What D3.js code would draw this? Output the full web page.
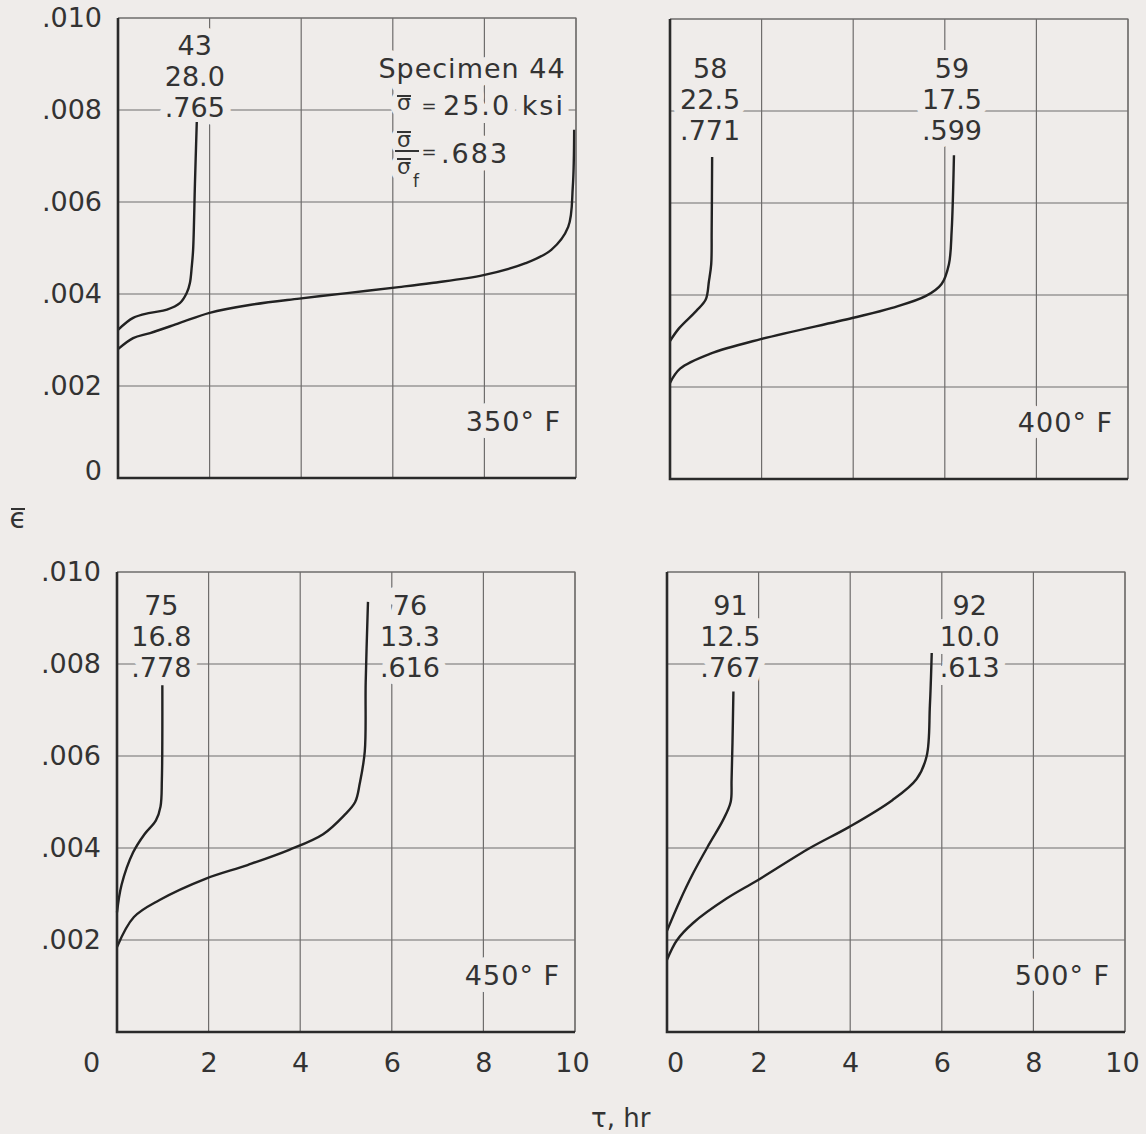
<!DOCTYPE html>
<html>
<head lang="en">
  <title>creep strain curves</title>
  <meta charset="utf-8">
  <script src="https://d3js.org/d3.v7.min.js"></script>
  <style>
    body { margin: 0; background: #efecea; }
    text { font-family: "DejaVu Sans", sans-serif; fill: #333; }
  </style>
</head>
<body>
  <script>

    // axis ticks
    var xTicks = [0, 2, 4, 6, 8, 10];
    var yTicks = [0, 0.002, 0.004, 0.006, 0.008, 0.010];
    var yTickLabels = ["0", ".002", ".004", ".006", ".008", ".010"];
    var temps = ["350° F", "400° F", "450° F", "500° F"];

    // curves: [time hr, mean strain]
    var curve43 = [[0, .00322], [.33, .00348], [.7, .00359], [1.07, .00366], [1.35, .0038], [1.5, .00402],
      [1.57, .00424], [1.61, .00459], [1.64, .00496], [1.68, .0064], [1.72, .00774]];
    var curve44 = [[0, .0028], [.33, .00304], [.7, .00315], [1.35, .00337], [2, .00359], [2.87, .00376],
      [3.96, .0039], [5, .00402], [6.13, .00415], [6.85, .00424], [7.98, .00441], [8.9, .00467],
      [9.46, .00496], [9.83, .00546], [9.93, .00633], [9.96, .00757]];
    var curve58 = [[0, .0030], [.2, .00328], [.57, .00365], [.78, .0039], [.85, .0043], [.9, .00467],
      [.91, .0054], [.92, .0070]];
    var curve59 = [[0, .00209], [.22, .0024], [.87, .00272], [1.98, .00304], [3.98, .0035], [4.85, .00372],
      [5.59, .00398], [5.93, .00424], [6.09, .00467], [6.15, .0054], [6.2, .00704]];
    var curve75 = [[0, .0026], [.1, .0032], [.35, .0039], [.6, .0043], [.85, .0046], [.95, .0049],
      [.98, .0055], [.99, .00754]];
    var curve76 = [[0, .00185], [.37, .0025], [.93, .00287], [1.93, .00333], [2.85, .00363], [3.76, .00396],
      [4.5, .0043], [4.95, .0047], [5.2, .0050], [5.3, .0054], [5.41, .0061], [5.43, .0076], [5.48, .00935]];
    var curve91 = [[0, .0022], [.28, .00285], [.57, .00345], [.93, .0041], [1.22, .0046], [1.39, .005],
      [1.41, .00548], [1.43, .0063], [1.45, .0074]];
    var curve92 = [[0, .00157], [.22, .002], [.57, .00237], [1.3, .0029], [1.98, .0033], [3.12, .004],
      [3.98, .00446], [4.92, .00504], [5.45, .0055], [5.67, .006], [5.74, .0071], [5.78, .00824]];

    // specimen, stress ksi, stress ratio
    var tag43 = ["43", "28.0", ".765"];
    var tag58 = ["58", "22.5", ".771"];
    var tag59 = ["59", "17.5", ".599"];
    var tag75 = ["75", "16.8", ".778"];
    var tag76 = ["76", "13.3", ".616"];
    var tag91 = ["91", "12.5", ".767"];
    var tag92 = ["92", "10.0", ".613"];

    var bg = "#efecea";
    var W = 458, H = 460;

    var svg = d3.select("body")
      .append("svg")
      .attr("width", 1146)
      .attr("height", 1134)
      .style("background", bg);

    var x = d3.scaleLinear().domain([0, 10]).range([0, W]);
    var y = d3.scaleLinear().domain([0, 0.010]).range([H, 0]);

    var line = d3.line()
      .x(function(d) { return x(d[0]); })
      .y(function(d) { return y(d[1]); })
      .curve(d3.curveCatmullRom.alpha(0.5));

    var panels = [
      { left: 118, top: 18, temp: temps[0], curves: [curve43, curve44], tags: [tag43, null], shift: [-2, 0],
        tagTop: 27, yAxis: true, xAxis: false },
      { left: 670, top: 19, temp: temps[1], curves: [curve58, curve59], tags: [tag58, tag59], shift: [-2, -2],
        tagTop: 49, yAxis: false, xAxis: false },
      { left: 117, top: 572, temp: temps[2], curves: [curve75, curve76], tags: [tag75, tag76], shift: [-1, 42],
        tagTop: 33, yAxis: true, xAxis: true, zeroShift: -26 },
      { left: 667, top: 572, temp: temps[3], curves: [curve91, curve92], tags: [tag91, tag92], shift: [-3, 38],
        tagTop: 33, yAxis: false, xAxis: true, zeroShift: 8 }
    ];

    function halo(sel) {
      sel.style("paint-order", "stroke")
        .style("stroke", bg)
        .style("stroke-width", "16px")
        .style("stroke-linejoin", "round");
    }

    panels.forEach(function(p) {
      var g = svg.append("g").attr("transform", "translate(" + p.left + "," + p.top + ")");

      // grid
      g.selectAll(".vg").data(xTicks.slice(1)).enter().append("line")
        .attr("x1", function(d) { return x(d); }).attr("x2", function(d) { return x(d); })
        .attr("y1", 0).attr("y2", H)
        .attr("stroke", "#6f6d6c").attr("stroke-width", 1.2);
      g.selectAll(".hg").data(yTicks.slice(1)).enter().append("line")
        .attr("x1", 0).attr("x2", W)
        .attr("y1", function(d) { return y(d); }).attr("y2", function(d) { return y(d); })
        .attr("stroke", "#6f6d6c").attr("stroke-width", 1.2);

      // specimen tags
      p.curves.forEach(function(c, i) {
        var t = p.tags[i];
        if (!t) return;
        var cx = x(c[c.length - 1][0]) + p.shift[i];
        g.selectAll(null).data(t).enter().append("text")
          .attr("x", cx)
          .attr("y", function(d, j) { return p.tagTop + j * 31; })
          .attr("dy", "0.36em")
          .attr("text-anchor", "middle")
          .attr("font-size", 27)
          .text(function(d) { return d; })
          .call(halo);
      });

      // temperature
      g.append("text")
        .attr("x", W - 15)
        .attr("y", y(0.00103))
        .attr("text-anchor", "end")
        .attr("font-size", 27)
        .style("letter-spacing", "1px")
        .text(p.temp)
        .call(halo);

      // curves
      g.selectAll(".curve").data(p.curves).enter().append("path")
        .attr("d", line)
        .attr("fill", "none")
        .attr("stroke", "#222")
        .attr("stroke-width", 2.4);

      // frame: thin top/right, heavy left/bottom
      g.append("path")
        .attr("d", "M0,0H" + W + "V" + H)
        .attr("fill", "none").attr("stroke", "#6f6d6c").attr("stroke-width", 1.2);
      g.append("path")
        .attr("d", "M0,0V" + H + "H" + W)
        .attr("fill", "none").attr("stroke", "#2a2a2a").attr("stroke-width", 2.6);

      if (p.yAxis) {
        var ya = g.append("g")
          .attr("transform", "translate(-16,0)")
          .call(d3.axisLeft(y).tickValues(yTicks).tickSize(0).tickPadding(0)
            .tickFormat(function(d, i) { return yTickLabels[i]; }));
        ya.select(".domain").remove();
        ya.selectAll("text")
          .attr("font-size", 27)
          .attr("font-family", null)
          .attr("fill", null);
        if (p.xAxis) ya.selectAll(".tick").filter(function(d) { return d === 0; }).remove();
        else ya.selectAll(".tick").filter(function(d) { return d === 0; }).select("text").attr("y", -7);
      }

      if (p.xAxis) {
        var xa = g.append("g")
          .attr("transform", "translate(0," + (H + 21) + ")")
          .call(d3.axisBottom(x).tickValues(xTicks).tickSize(0).tickPadding(0));
        xa.select(".domain").remove();
        xa.selectAll("text")
          .attr("font-size", 27)
          .attr("font-family", null)
          .attr("fill", null);
        xa.selectAll(".tick").filter(function(d) { return d === 0; }).select("text").attr("x", p.zeroShift);
        xa.selectAll(".tick").filter(function(d) { return d === 10; }).select("text").attr("x", -3);
      }
    });

    // specimen 44 block
    var s = svg.append("g");
    s.append("text").attr("x", 472).attr("y", 78).attr("text-anchor", "middle")
      .attr("font-size", 27).style("letter-spacing", "1px").text("Specimen 44").call(halo);
    s.append("text").attr("x", 404).attr("y", 110).attr("text-anchor", "middle")
      .attr("font-size", 22).text("σ").call(halo);
    s.append("text").attr("x", 429).attr("y", 112).attr("text-anchor", "middle")
      .attr("font-size", 18).text("=").call(halo);
    s.append("text").attr("x", 443).attr("y", 115)
      .attr("font-size", 27).style("letter-spacing", "2px").text("25.0 ksi").call(halo);
    s.append("text").attr("x", 404).attr("y", 147).attr("text-anchor", "middle")
      .attr("font-size", 22).text("σ").call(halo);
    s.append("text").attr("x", 404).attr("y", 174).attr("text-anchor", "middle")
      .attr("font-size", 22).text("σ").call(halo);
    s.append("text").attr("x", 413).attr("y", 187)
      .attr("font-size", 17).text("f").call(halo);
    s.append("text").attr("x", 429).attr("y", 158).attr("text-anchor", "middle")
      .attr("font-size", 18).text("=").call(halo);
    s.append("text").attr("x", 441).attr("y", 163)
      .attr("font-size", 27).style("letter-spacing", "2px").text(".683").call(halo);
    [[397, 411, 96], [397, 411, 132], [395, 419, 151], [397, 411, 159]].forEach(function(b) {
      s.append("line").attr("x1", b[0]).attr("x2", b[1]).attr("y1", b[2]).attr("y2", b[2])
        .attr("stroke", "#333").attr("stroke-width", 2);
    });

    // axis titles
    svg.append("text").attr("x", 18).attr("y", 528).attr("text-anchor", "middle")
      .attr("font-size", 28).text("ϵ");
    svg.append("line").attr("x1", 11).attr("x2", 25).attr("y1", 509).attr("y2", 509)
      .attr("stroke", "#333").attr("stroke-width", 2);
    svg.append("text").attr("x", 591).attr("y", 1127)
      .attr("font-size", 26).text("τ, hr");

  </script>
</body>
</html>
